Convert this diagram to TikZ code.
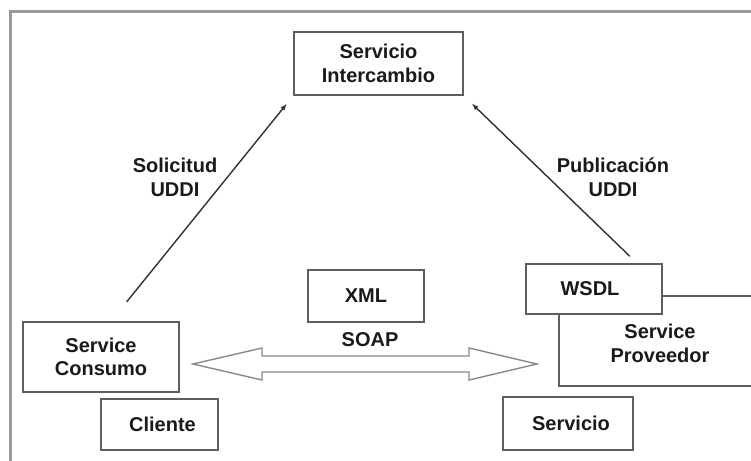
\documentclass[tikz,border=0pt]{standalone}
\usepackage{fontspec}
\setmainfont{Liberation Sans}
\usetikzlibrary{arrows.meta}

\definecolor{framegray}{HTML}{9A9A9A}
\definecolor{boxgray}{HTML}{5E5E5E}
\definecolor{soapgray}{HTML}{8A8A8A}
\definecolor{textgray}{HTML}{1A1A1A}

\tikzset{
    box/.style={draw=boxgray, line width=1.5pt, fill=white, inner sep=0pt,
        align=center, text=textgray, font=\bfseries\fontsize{20}{23.5}\selectfont},
    lbl/.style={align=center, text=textgray, font=\bfseries\fontsize{20}{24}\selectfont},
    uddi/.style={draw=textgray!90, line width=1.4pt, -{Latex[length=7pt,width=5pt]}},
    soaparrow/.style={draw=soapgray, line width=1.4pt, fill=white, line join=miter},
}

\begin{document}
\begin{tikzpicture}[x=1pt,y=-1pt]

    % page
    \clip (0,0) rectangle (751,460);
    \fill[white] (0,0) rectangle (751,460);
    \draw[framegray, line width=3pt] (10.5,470) -- (10.5,12) -- (760,12);

    % boxes
    \node[box, minimum width=169pt, minimum height=63pt] (inter) at (378.5,63.5) {Servicio\\Intercambio};
    \node[box, minimum width=156pt, minimum height=70pt] (consumo) at (101,357) {Service\\Consumo};
    \node[box, minimum width=117pt, minimum height=51pt] (cliente) at (159.5,424.5) {\hspace{6pt}Cliente};
    \node[box, minimum width=116pt, minimum height=52pt] (xml) at (366,296) {XML};
    \node[box, minimum width=202pt, minimum height=90pt] (proveedor) at (660,341) {\\[-4pt]Service\\Proveedor};
    \node[box, minimum width=136pt, minimum height=50pt] (wsdl) at (594,289) {WSDL\hspace{8pt}};
    \node[box, minimum width=130pt, minimum height=53pt] (servicio) at (568,423.5) {\hspace{6pt}Servicio};

    % labels
    \node[lbl] (soap) at (370,340) {SOAP};
    \node[lbl] (solicitud) at (175,177) {Solicitud\\UDDI};
    \node[lbl] (publicacion) at (613,177) {Publicación\\UDDI};

    % UDDI arrows
    \draw[uddi, shorten <=25pt, shorten >=10pt] ([xshift=10pt]consumo.north) -- (inter.south west);
    \draw[uddi, shorten <=10pt, shorten >=11pt] ([xshift=43pt]wsdl.north) -- (inter.south east);

    % SOAP double arrow
    \coordinate (soapL) at (193,364);
    \coordinate (soapR) at (537,364);
    \draw[soaparrow] (soapL) -- ++(69,-16) -- ++(0,8) -- ++(207,0) -- ++(0,-8) -- (soapR)
        -- ++(-68,16) -- ++(0,-8) -- ++(-207,0) -- ++(0,8) -- cycle;

\end{tikzpicture}
\end{document}
